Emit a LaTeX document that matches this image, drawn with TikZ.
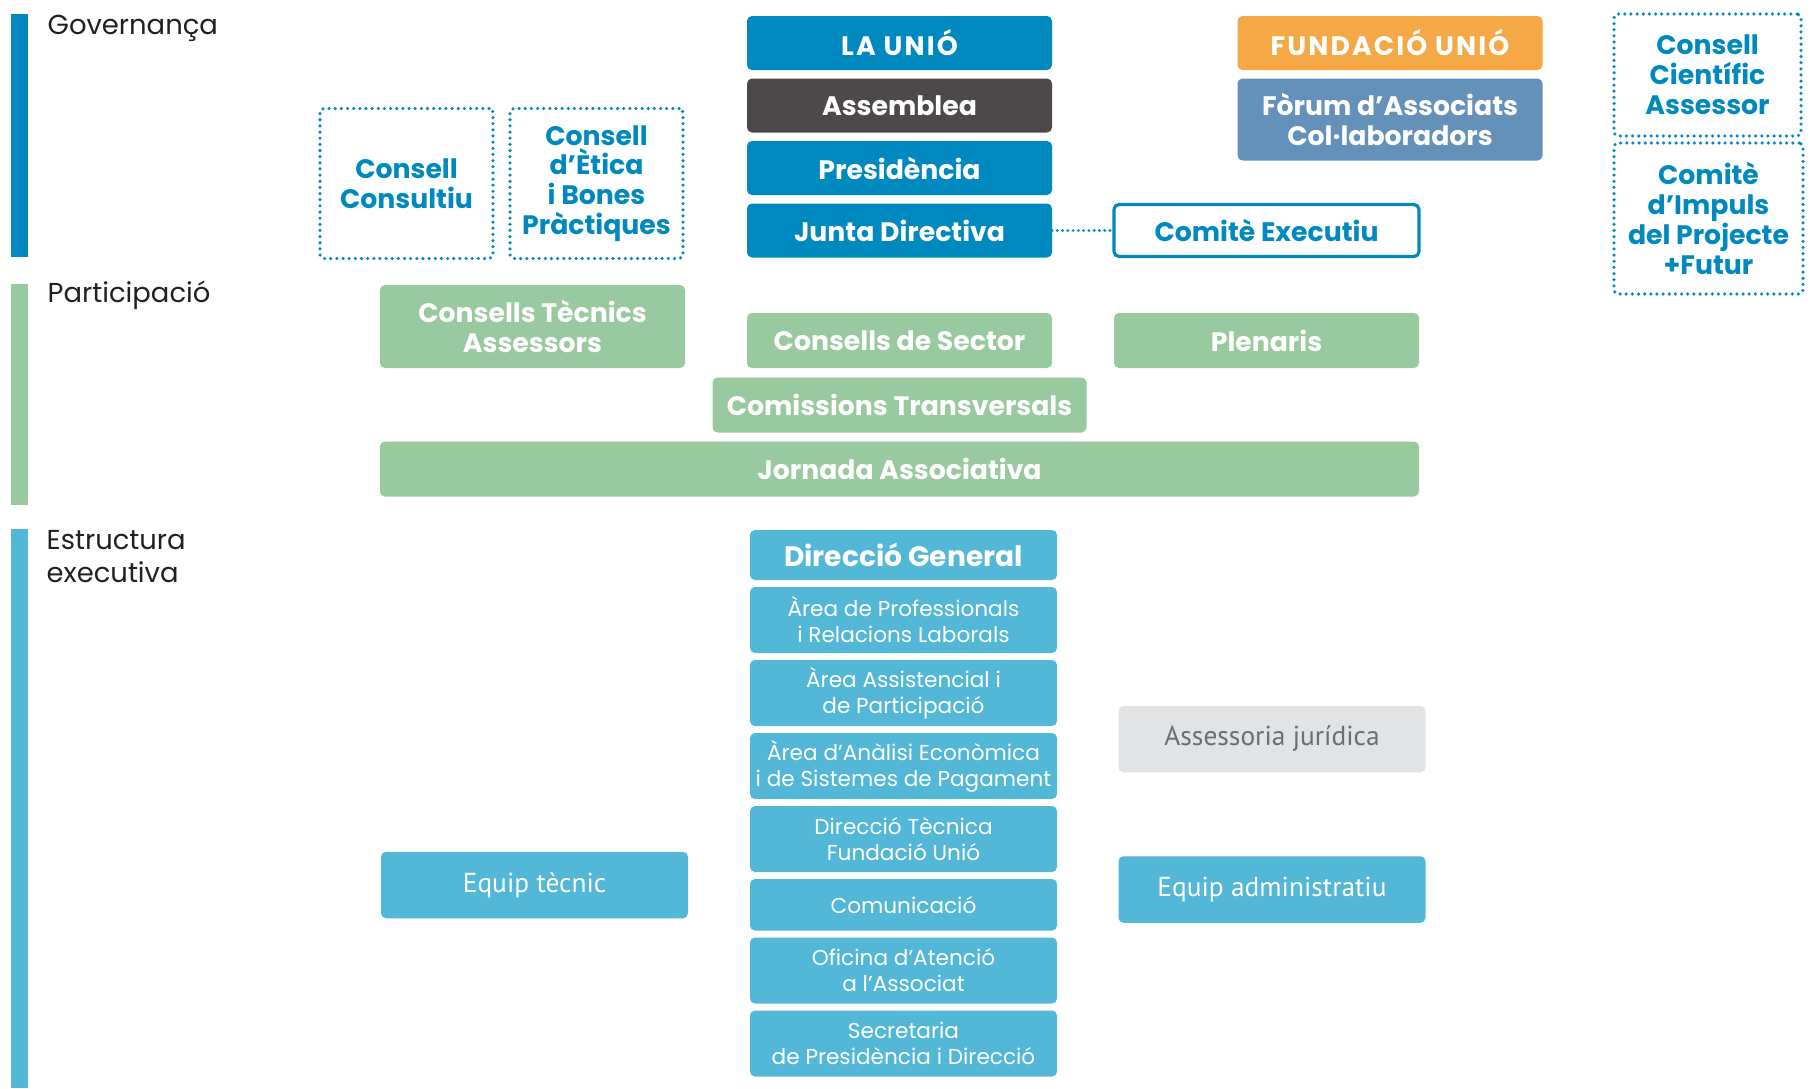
\documentclass[tikz,border=0pt]{standalone}
\usepackage{fontspec}
\usepackage{tikz}
\usepackage{xcolor}
\usetikzlibrary{positioning}
\setmainfont{Poppins}
\newfontfamily\myriad{PT Sans}
\definecolor{uniblue}{HTML}{0089BF}
\definecolor{asmgray}{HTML}{4D494B}
\definecolor{fundorange}{HTML}{F4A846}
\definecolor{forumblue}{HTML}{6391BA}
\definecolor{partgreen}{HTML}{99C99E}
\definecolor{estblue}{HTML}{53B7D7}
\definecolor{jurgray}{HTML}{E2E3E5}
\definecolor{jurtext}{HTML}{6D6E71}
\definecolor{labeltext}{HTML}{231F20}

\begin{document}
\begin{tikzpicture}[
        box/.style={rectangle, rounded corners=0.05cm, inner sep=0pt, outer sep=0pt, align=center, text=white, font=\bfseries\fontsize{7.6}{8.6}\selectfont, minimum width=3.05cm, minimum height=0.54cm},
        govbox/.style={box, fill=uniblue},
        capsbox/.style={box, font=\bfseries\fontsize{7.6}{8.6}\selectfont\addfontfeatures{LetterSpace=8}},
        partbox/.style={box, fill=partgreen, minimum height=0.55cm},
        areabox/.style={box, fill=estblue, minimum width=3.07cm, minimum height=0.66cm, font=\fontsize{6.15}{7.4}\selectfont},
        myrbox/.style={box, font=\myriad\fontsize{7.8}{9}\selectfont, minimum width=3.07cm, minimum height=0.665cm},
        dotbox/.style={rectangle, rounded corners=0.04cm, inner sep=0pt, outer sep=0pt, align=center, text=uniblue, font=\bfseries\fontsize{7.6}{8.5}\selectfont, draw=uniblue, line width=1pt, dash pattern=on 0pt off 1.75pt, line cap=round},
        heading/.style={anchor=base west, inner sep=0pt, align=left, text=labeltext, font=\fontsize{7.8}{9.4}\selectfont}]
        \useasboundingbox (0,0) rectangle (18.10,-10.88);

        \fill[uniblue] (0.11,-0.14) rectangle (0.28,-2.57);
        \fill[partgreen] (0.11,-2.84) rectangle (0.28,-5.05);
        \fill[estblue] (0.11,-5.29) rectangle (0.28,-10.88);
        \node[heading] (governanca) at (0.47,-0.34) {Governança};
        \node[heading] (participacio) at (0.47,-3.025) {Participació};
        \node[heading] (estructura) at (0.46,-5.825) {Estructura\\executiva};

        \node[capsbox, fill=uniblue] (launio) at (8.995,-0.43) {LA UNIÓ};
        \node[box, fill=asmgray, below=0.085cm of launio] (assemblea) {Assemblea};
        \node[govbox, below=0.085cm of assemblea] (presidencia) {Presidència};
        \node[govbox, below=0.085cm of presidencia] (junta) {Junta Directiva};
        \node[box, fill=white, draw=uniblue, line width=0.9pt, text=uniblue, minimum height=0.52cm] (comite) at (12.665,-2.305) {Comitè Executiu};
        \draw[uniblue, line width=0.9pt, line cap=round, dash pattern=on 0pt off 1.5pt] (junta) -- (comite);
        \node[capsbox, fill=fundorange] (fundacio) at (13.90,-0.43) {FUNDACIÓ UNIÓ};
        \node[box, fill=forumblue, minimum height=0.82cm, below=0.085cm of fundacio] (forum) {Fòrum d’Associats\\Col·laboradors};
        \node[dotbox, minimum width=1.87cm, minimum height=1.22cm] (cientific) at (17.075,-0.75) {Consell\\Científic\\Assessor};
        \node[dotbox, minimum width=1.89cm, minimum height=1.51cm] (impuls) at (17.085,-2.185) {Comitè\\d’Impuls\\del Projecte\\+Futur};
        \node[dotbox, minimum width=1.73cm, minimum height=1.50cm] (consultiu) at (4.065,-1.835) {Consell\\Consultiu};
        \node[dotbox, minimum width=1.73cm, minimum height=1.50cm] (etica) at (5.965,-1.835) {Consell\\d’Ètica\\i Bones\\Pràctiques};

        \node[partbox, minimum height=0.83cm] (tecnics) at (5.325,-3.265) {Consells Tècnics\\Assessors};
        \node[partbox] (sector) at (8.995,-3.405) {Consells de Sector};
        \node[partbox] (plenaris) at (12.665,-3.405) {Plenaris};
        \node[partbox, minimum width=3.74cm, below=0.095cm of sector] (comissions) {Comissions Transversals};
        \node[partbox, minimum width=10.39cm, below=0.09cm of comissions] (jornada) {Jornada Associativa};

        \node[box, fill=estblue, minimum width=3.07cm, minimum height=0.50cm, font=\bfseries\fontsize{8}{9}\selectfont] (direccio) at (9.035,-5.55) {Direcció General};
        \node[areabox, below=0.07cm of direccio] (professionals) {Àrea de Professionals\\i Relacions Laborals};
        \node[areabox, below=0.07cm of professionals] (assistencial) {Àrea Assistencial i\\de Participació};
        \node[areabox, below=0.07cm of assistencial] (analisi) {Àrea d’Anàlisi Econòmica\\i de Sistemes de Pagament};
        \node[areabox, below=0.07cm of analisi] (tecnica) {Direcció Tècnica\\Fundació Unió};
        \node[areabox, minimum height=0.515cm, below=0.07cm of tecnica] (comunicacio) {Comunicació};
        \node[areabox, below=0.07cm of comunicacio] (oficina) {Oficina d’Atenció\\a l’Associat};
        \node[areabox, below=0.07cm of oficina] (secretaria) {Secretaria\\de Presidència i Direcció};
        \node[myrbox, fill=estblue] (equiptecnic) at (5.345,-8.85) {Equip tècnic};
        \node[myrbox, fill=jurgray, text=jurtext] (juridica) at (12.72,-7.39) {Assessoria jurídica};
        \node[myrbox, fill=estblue] (administratiu) at (12.72,-8.895) {Equip administratiu};
\end{tikzpicture}
\end{document}
